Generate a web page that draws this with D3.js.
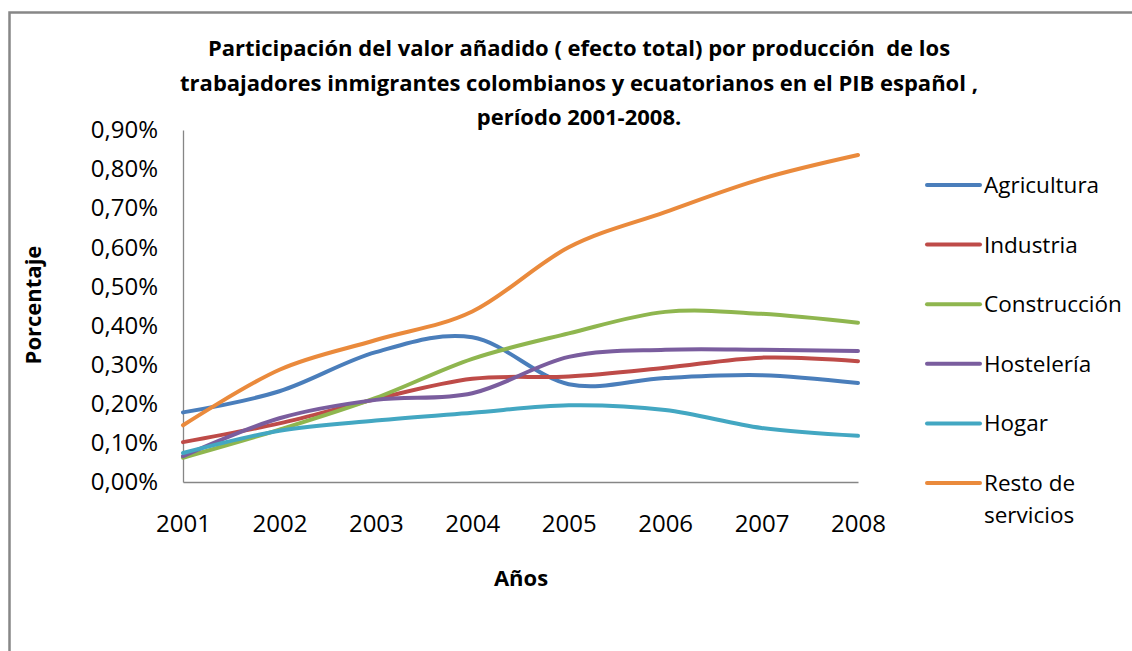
<!DOCTYPE html>
<html>
<head>
<meta charset="utf-8">
<script src="https://cdnjs.cloudflare.com/ajax/libs/d3/7.8.5/d3.min.js"></script>
<style>
	body { margin: 0; background: #fff; }
	svg text { font-family: "Open Sans", sans-serif; fill: #000; }
	.domain { stroke: #868686; }
</style>
</head>
<body>
<svg id="chart"></svg>
<script>
/* data (values in %) */
var years = ["2001", "2002", "2003", "2004", "2005", "2006", "2007", "2008"];
var agricultura  = [0.178, 0.232, 0.332, 0.370, 0.250, 0.266, 0.273, 0.253];
var industria    = [0.102, 0.150, 0.212, 0.264, 0.270, 0.292, 0.318, 0.309];
var construccion = [0.062, 0.134, 0.215, 0.315, 0.380, 0.435, 0.430, 0.407];
var hosteleria   = [0.066, 0.163, 0.210, 0.227, 0.320, 0.338, 0.338, 0.335];
var hogar        = [0.074, 0.131, 0.157, 0.177, 0.196, 0.184, 0.138, 0.118];
var resto        = [0.145, 0.287, 0.363, 0.436, 0.600, 0.690, 0.775, 0.836];
var yTicks = [0, 0.1, 0.2, 0.3, 0.4, 0.5, 0.6, 0.7, 0.8, 0.9];

var seriesNames = ["Agricultura", "Industria", "Construcción", "Hostelería", "Hogar", "Resto de servicios"];
var seriesValues = [agricultura, industria, construccion, hosteleria, hogar, resto];
var colors = ["#4a7ebb", "#be4b48", "#8fb64f", "#7a5d9e", "#43a7c2", "#ea8a3c"];

var titleLines = [
	"Participación del valor añadido ( efecto total) por producción  de los",
	"trabajadores inmigrantes colombianos y ecuatorianos en el PIB español ,",
	"período 2001-2008."
];

var width = 1132, height = 651;
var plot = { left: 183, right: 858, top: 130, bottom: 482 };

var svg = d3.select("#chart")
	.attr("width", width)
	.attr("height", height);

/* outer frame, cut by the window on the right and bottom */
svg.append("rect")
	.attr("x", 9.5).attr("y", 12.5)
	.attr("width", 1200).attr("height", 700)
	.attr("fill", "none")
	.attr("stroke", "#878787")
	.attr("stroke-width", 2.5);

/* scales */
var xScale = d3.scalePoint()
	.domain(years)
	.range([plot.left, plot.right]);

var yScale = d3.scaleLinear()
	.domain([0, 0.9])
	.range([plot.bottom, plot.top]);

/* title */
svg.append("text")
	.attr("x", 579)
	.attr("y", 56)
	.attr("text-anchor", "middle")
	.style("font-weight", "bold")
	.style("font-size", "22px")
	.selectAll("tspan")
	.data(titleLines)
	.enter().append("tspan")
		.attr("x", 579)
		.attr("dy", function (d, i){ return i ? 34.5 : 0; })
		.style("white-space", "pre")
		.text(function (d){ return d; });

/* y-axis */
var yAxis = d3.axisLeft(yScale)
	.tickValues(yTicks)
	.tickSize(0)
	.tickPadding(25)
	.tickFormat(function (d){ return d3.format(".2f")(d).replace(".", ",") + "%"; });

svg.append("g")
	.attr("class", "y-axis")
	.attr("transform", "translate(" + plot.left + ",0)")
	.call(yAxis)
	.selectAll("text")
		.style("font-size", "24px")
		.attr("font-family", null);

/* x-axis */
var xAxis = d3.axisBottom(xScale)
	.tickSize(0)
	.tickPadding(33);

svg.append("g")
	.attr("class", "x-axis")
	.attr("transform", "translate(0," + plot.bottom + ")")
	.call(xAxis)
	.selectAll("text")
		.style("font-size", "24px")
		.attr("font-family", null);

svg.selectAll(".domain").attr("stroke-width", 1.3);

/* axis legends */
svg.append("text")
	.attr("transform", "translate(41,305) rotate(-90)")
	.attr("text-anchor", "middle")
	.style("font-weight", "bold")
	.style("font-size", "22px")
	.text("Porcentaje");

svg.append("text")
	.attr("x", 521)
	.attr("y", 586)
	.attr("text-anchor", "middle")
	.style("font-weight", "bold")
	.style("font-size", "22px")
	.text("Años");

/* lines, smoothed like the spreadsheet */
var line = d3.line()
	.x(function (d, i){ return xScale(years[i]); })
	.y(function (d){ return yScale(d); })
	.curve(d3.curveCardinal.tension(0));

svg.append("g")
	.attr("id", "lines")
	.selectAll("path")
	.data(seriesValues)
	.enter().append("path")
		.attr("d", line)
		.attr("fill", "none")
		.attr("stroke", function (d, i){ return colors[i]; })
		.attr("stroke-width", 4)
		.attr("stroke-linecap", "round")
		.attr("stroke-linejoin", "round");

/* legend */
var legend = svg.append("g")
	.attr("id", "legend")
	.selectAll("g")
	.data(seriesNames)
	.enter().append("g")
		.attr("transform", function (d, i){ return "translate(927," + (185 + i * 59.6) + ")"; });

legend.append("line")
	.attr("x1", 0).attr("x2", 53)
	.attr("stroke", function (d, i){ return colors[i]; })
	.attr("stroke-width", 4)
	.attr("stroke-linecap", "round");

legend.append("text")
	.attr("x", 57)
	.attr("y", 8)
	.style("font-size", "22.5px")
	.selectAll("tspan")
	.data(function (d){ return d == "Resto de servicios" ? ["Resto de", "servicios"] : [d]; })
	.enter().append("tspan")
		.attr("x", 57)
		.attr("dy", function (d, i){ return i ? 32 : 0; })
		.text(function (d){ return d; });
</script>
</body>
</html>
